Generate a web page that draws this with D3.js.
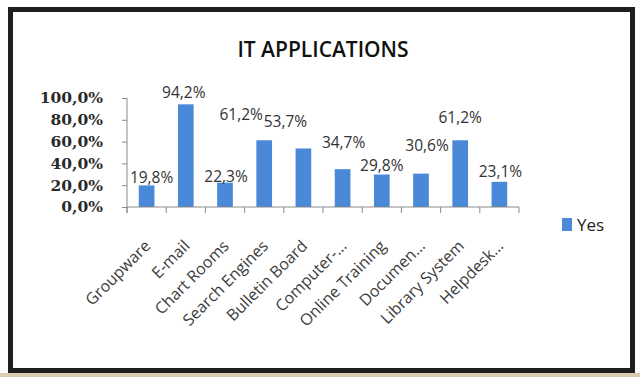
<!DOCTYPE html>
<html><head><meta charset="utf-8">
<script src="https://cdn.jsdelivr.net/npm/d3@7"></script>
<style>
html,body{margin:0;padding:0;background:#fff;}
svg{display:block;}
</style></head>
<body>
<script>
// ---- data ----
const title = "IT APPLICATIONS";
const categories = ["Groupware","E-mail","Chart Rooms","Search Engines","Bulletin Board","Computer-…","Online Training","Documen…","Library System","Helpdesk…"];
const values = [19.8, 94.2, 22.3, 61.2, 53.7, 34.7, 29.8, 30.6, 61.2, 23.1];
const yTicks = [0, 20, 40, 60, 80, 100];
const seriesName = "Yes";
// ---- layout (label nudges in px, as placed in the original) ----
const labelDx = [5, -2, 1, -23, -18, 1, 0, 6, 0, 1];
const labelDy = [-2, -6, -1, -20, -21, -21, -4, -23, -17, -5];

const W = 640, H = 377;
const loc = d3.formatLocale({decimal: ",", thousands: ".", grouping: [3], currency: ["", ""]});
const fmt = loc.format(".1f");

const svg = d3.select("body").append("svg").attr("width", W).attr("height", H);

// page / frame
svg.append("rect").attr("x",0).attr("y",0).attr("width",W).attr("height",H).attr("fill","#fdfdfd");
svg.append("rect").attr("x",0).attr("y",373).attr("width",W).attr("height",4).attr("fill","#d9ccb2");
svg.append("rect").attr("x",10.5).attr("y",9.5).attr("width",622).attr("height",361)
  .attr("fill","#ffffff").attr("stroke","#1e1e1e").attr("stroke-width",5);

const x = d3.scaleBand().domain(categories).range([127, 519]).paddingInner(0.6).paddingOuter(0.3);
const y = d3.scaleLinear().domain([0, 100]).range([207, 98]);

// title
svg.append("text").attr("x", 323).attr("y", 57).attr("text-anchor","middle")
  .attr("font-family","Open Sans").attr("font-weight",600).attr("font-size",21)
  .attr("fill","#111").text(title);

// bars
svg.append("g").selectAll("rect").data(values).join("rect")
  .attr("x", (d,i) => x(categories[i]))
  .attr("y", d => y(d))
  .attr("width", x.bandwidth())
  .attr("height", d => y(0) - y(d))
  .attr("fill", "#4a88d8");

// y axis
const yAxis = svg.append("g").attr("transform","translate(127,0)")
  .call(d3.axisLeft(y).tickValues(yTicks).tickSize(5).tickPadding(19).tickFormat(d => fmt(d) + "%"));
yAxis.select(".domain").attr("stroke","#8a8a8a").attr("d","M0,98V213");
yAxis.selectAll(".tick line").attr("stroke","#8a8a8a");
yAxis.selectAll(".tick text").attr("font-family","DejaVu Serif").attr("font-weight",700)
  .attr("font-size",15.5).attr("fill","#2a2a2a");

// x axis (ticks at category boundaries)
const xAxisG = svg.append("g");
xAxisG.append("line").attr("x1",127).attr("x2",519).attr("y1",207).attr("y2",207).attr("stroke","#8a8a8a");
const bounds = categories.map(c => x(c) - x.step()*x.paddingInner()/2 + x.step()).concat([127]);
xAxisG.selectAll("line.t").data(bounds).join("line").attr("class","t")
  .attr("x1", d => d).attr("x2", d => d).attr("y1",207).attr("y2",213).attr("stroke","#8a8a8a");

// category labels
svg.append("g").selectAll("text").data(categories).join("text")
  .attr("transform", c => `translate(${x(c) + x.bandwidth()/2 + 5},247) rotate(-45)`)
  .attr("text-anchor","end")
  .attr("font-family","Open Sans").attr("font-size",16).attr("fill","#3c3c3c")
  .text(c => c);

// data labels
svg.append("g").selectAll("text").data(values).join("text")
  .attr("x", (d,i) => x(categories[i]) + x.bandwidth()/2 + labelDx[i])
  .attr("y", (d,i) => y(d) + labelDy[i])
  .attr("text-anchor","middle")
  .attr("font-family","Open Sans").attr("font-size",15.5).attr("font-weight",500).attr("fill","#333")
  .text(d => fmt(d) + "%");

// legend
svg.append("rect").attr("x",562).attr("y",218).attr("width",10).attr("height",13).attr("fill","#4a88d8");
svg.append("text").attr("x",577).attr("y",231).attr("font-family","Open Sans").attr("font-size",17)
  .attr("fill","#222").text(seriesName);
</script>
</body></html>
